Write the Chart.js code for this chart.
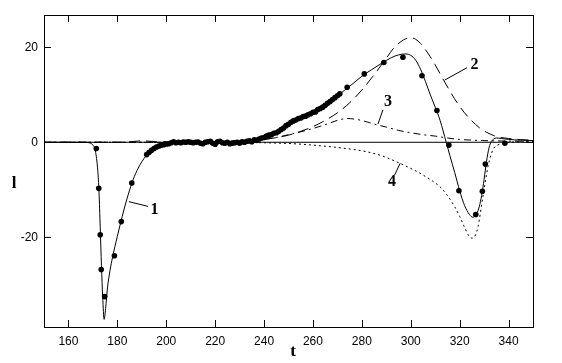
<!DOCTYPE html>
<html lang="en">
<head>
<meta charset="UTF-8">
<title>l(t)</title>
<script src="https://cdn.jsdelivr.net/npm/chart.js"></script>
<style>
  body { margin: 0; background: #fff; }
  canvas { display: block; }
</style>
</head>
<body>
<canvas id="chart" width="562" height="363"></canvas>
<script>
// curve 1 - solid (fit)
const t1 = [150,160,166,168,169,170,171,172,172.5,173,173.5,174,174.6,175.2,176,177,178,180,182,184,186,188,190,192,194,196,198,200,205,210,220,230,235,238,240,243,246,249,252,255,258,261,264,267,270,273,276,280,284,288,292,295,298,300,302,304,306,308,310,312,314.5,316,318,320,322,324,325.4,327,328,329,330,331,332,333,334,335,337,340,345,350];
const l1 = [0,0,0,-0.05,-0.2,-0.6,-1.8,-6,-10.5,-18,-26,-32.5,-37.3,-35,-30.5,-27,-24.3,-19.8,-15.6,-11.8,-8.5,-6.0,-4.1,-2.7,-1.7,-1.0,-0.6,-0.3,-0.05,0,0.1,0.3,0.5,0.7,1.0,1.6,2.4,3.4,4.5,5.2,5.9,6.6,7.4,8.5,9.7,11.0,12.2,13.9,15.3,16.6,17.8,18.4,18.6,18.3,17.3,15.4,12.8,10.0,7.4,4.6,0,-2.8,-6.4,-10.2,-13.3,-15.2,-15.8,-15.0,-13.6,-11.2,-7.8,-4.0,-1.2,0.2,0.7,0.9,0.8,0.6,0.45,0.35];

// curve 2 - long dash
const t2 = [150,180,185,190,195,200,220,230,240,250,255,260,265,270,275,280,285,290,293,296,298,300,302,304,306,308,310,313,316,319,322,325,328,331,334,337,340,345,350];
const l2 = [0,0,0.1,0.3,0.15,0.05,0.05,0.2,0.6,1.5,2.3,3.3,4.6,6.2,8.3,11.0,14.2,17.7,19.8,21.2,21.8,22.0,21.7,20.8,19.5,18.0,16.3,13.5,10.8,8.3,6.2,4.5,3.1,2.1,1.4,1.0,0.8,0.55,0.45];

// curve 3 - dash-dot
const t3 = [150,210,220,230,240,245,250,255,260,265,270,274,278,282,286,290,295,300,305,310,315,320,325,330,340,350];
const l3 = [0,0,0.1,0.3,0.6,1.0,1.6,2.2,2.9,3.7,4.6,5.0,4.8,4.3,3.7,3.2,2.5,2.0,1.6,1.3,0.9,0.6,0.45,0.35,0.25,0.2];

// curve 4 - dotted
const t4 = [150,230,240,250,260,270,280,286,290,295,300,303,306,309,312,315,318,320,322,323.5,325,326.5,327.5,329.5,331.6,333.6,336.4,340,350];
const l4 = [0,0,-0.1,-0.25,-0.6,-1.1,-1.8,-2.5,-3.2,-4.3,-5.5,-6.3,-7.2,-8.2,-9.4,-11.2,-13.6,-15.6,-17.9,-19.5,-20.2,-19.5,-17.8,-11.5,-5.1,-1.6,-0.4,0,0.1];

// measured points
const ptT = [171.4,172.4,173,173.4,174.8,178.8,181.6,185.9,
  192,193,194,195,196,197,198,199,200,201,202,203,204,205,206,207,208,209,210,211,212,213,214,215,216,217,218,219,220,221,222,223,224,225,226,227,228,229,230,231,232,233,234,235,236,237,238,239,240,241,242,243,244,245,246,247,248,249,250,251,252,253,254,255,256,257,258,259,260,261,262,263,264,265,266,267,268,269,270,271,
  274,281,289,296.8,304.6,310.7,315.6,319.7,326.6,329.3,330.5,338.5];
const ptL = [-1.3,-9.7,-19.5,-26.8,-32.5,-23.9,-16.7,-8.6,
  -2.6,-2.1,-1.7,-1.3,-1.0,-0.8,-0.6,-0.5,-0.35,-0.3,-0.1,0.1,-0.1,0.0,-0.1,0.05,0.0,0.1,0.0,-0.1,0.0,0.05,-0.2,-0.3,0.0,0.1,0.2,-0.2,-0.4,0.1,0.2,-0.1,-0.2,0.0,-0.3,-0.2,-0.1,0.0,-0.2,0.1,0.0,0.2,0.3,0.1,0.5,0.4,0.7,0.9,1.0,1.3,1.5,1.6,1.9,2.0,2.3,2.7,3.0,3.5,3.8,4.2,4.5,4.7,5.0,5.1,5.4,5.5,5.8,6.0,6.3,6.4,6.9,7.1,7.4,7.8,8.2,8.6,9.0,9.4,9.8,10.2,
  11.6,14.4,16.8,17.9,14.0,6.7,-0.6,-10.2,-15.2,-10.3,-4.6,-0.2];

// zero line
const zeroT = [150,350];
const zeroL = [0,0];

// axis ticks
const xTicks = [160,180,200,220,240,260,280,300,320,340];
const yTicks = [-20,0,20];

// curve numbers and their leader lines (data units)
const curveNames = ['1','2','3','4'];
const nameT = [195.2,326.1,290.7,292.3];
const nameL = [-14.3,16.3,8.5,-8.3];
const leadFromT = [192.5,323,288.6,293.4];
const leadFromL = [-13.5,15.7,6.8,-6.9];
const leadToT = [184.7,313.9,286.6,295.7];
const leadToL = [-12.5,13.1,3.85,-4.4];

const pts = (ts, ls) => ts.map((t, i) => ({x: t, y: ls[i]}));

function lineSet(ts, ls, dash) {
  return {
    data: pts(ts, ls),
    showLine: true,
    borderColor: '#000',
    borderWidth: 1,
    borderDash: dash,
    pointRadius: 0,
    cubicInterpolationMode: 'monotone',
    fill: false
  };
}

// frame, inward ticks, curve numbers, axis names
const extras = {
  id: 'extras',
  afterDatasetsDraw(chart) {
    const ctx = chart.ctx;
    const a = chart.chartArea;
    const xs = chart.scales.x, ys = chart.scales.y;
    ctx.save();
    ctx.strokeStyle = '#000';
    ctx.lineWidth = 1;
    ctx.strokeRect(Math.round(a.left) + 0.5, Math.round(a.top) + 0.5,
      Math.round(a.right - a.left), Math.round(a.bottom - a.top));
    ctx.beginPath();
    xTicks.forEach(t => {
      const x = Math.round(xs.getPixelForValue(t)) + 0.5;
      ctx.moveTo(x, a.top); ctx.lineTo(x, a.top + 7);
      ctx.moveTo(x, a.bottom); ctx.lineTo(x, a.bottom - 7);
    });
    yTicks.forEach(v => {
      const y = Math.round(ys.getPixelForValue(v)) + 0.5;
      ctx.moveTo(a.left, y); ctx.lineTo(a.left + 7, y);
      ctx.moveTo(a.right, y); ctx.lineTo(a.right - 7, y);
    });
    // leaders
    curveNames.forEach((n, i) => {
      ctx.moveTo(xs.getPixelForValue(leadFromT[i]), ys.getPixelForValue(leadFromL[i]));
      ctx.lineTo(xs.getPixelForValue(leadToT[i]), ys.getPixelForValue(leadToL[i]));
    });
    ctx.stroke();

    ctx.fillStyle = '#000';
    ctx.textAlign = 'center';
    ctx.textBaseline = 'middle';
    ctx.font = 'bold 16px "Liberation Serif", serif';
    curveNames.forEach((n, i) => {
      ctx.fillText(n, xs.getPixelForValue(nameT[i]), ys.getPixelForValue(nameL[i]));
    });
    ctx.font = 'bold 17px "Liberation Serif", serif';
    ctx.fillText('t', 293, 352);
    ctx.fillText('l', 14, 184);
    ctx.restore();
  }
};

new Chart(document.getElementById('chart'), {
  type: 'scatter',
  data: {
    datasets: [
      lineSet(zeroT, zeroL, []),
      lineSet(t4, l4, [2, 3]),
      lineSet(t3, l3, [7, 4, 2, 4]),
      lineSet(t2, l2, [11, 6]),
      lineSet(t1, l1, []),
      {
        data: pts(ptT, ptL),
        showLine: false,
        pointRadius: 2.8,
        pointBackgroundColor: '#000',
        pointBorderWidth: 0
      }
    ]
  },
  options: {
    responsive: false,
    animation: false,
    layout: { padding: { left: 0, top: 15, right: 29, bottom: 0 } },
    plugins: { legend: { display: false }, tooltip: { enabled: false } },
    scales: {
      x: {
        type: 'linear',
        min: 150, max: 350,
        grid: { display: false, drawTicks: false },
        border: { display: false },
        afterBuildTicks: s => { s.ticks = xTicks.map(v => ({value: v})); },
        afterFit: s => { s.height = 36; },
        ticks: { color: '#000', padding: 7, font: { family: '"Liberation Sans", sans-serif', size: 12 } }
      },
      y: {
        type: 'linear',
        min: -38.9, max: 26.8,
        grid: { display: false, drawTicks: false },
        border: { display: false },
        afterBuildTicks: s => { s.ticks = yTicks.map(v => ({value: v})); },
        afterFit: s => { s.width = 44; },
        ticks: { color: '#000', padding: 6, font: { family: '"Liberation Sans", sans-serif', size: 12 } }
      }
    }
  },
  plugins: [extras]
});
</script>
</body>
</html>
